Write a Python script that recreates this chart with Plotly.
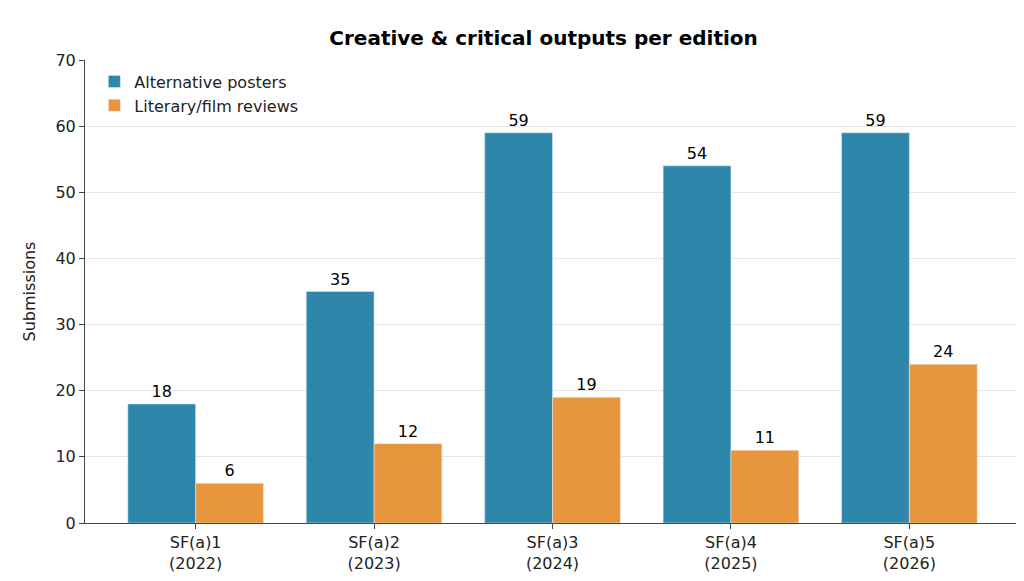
import plotly.graph_objects as go

editions = ["SF(a)1<br>(2022)", "SF(a)2<br>(2023)", "SF(a)3<br>(2024)", "SF(a)4<br>(2025)", "SF(a)5<br>(2026)"]
posters = [18, 35, 59, 54, 59]
reviews = [6, 12, 19, 11, 24]

font = "DejaVu Sans"
fig = go.Figure()
fig.add_trace(go.Bar(x=editions, y=posters, name="Alternative posters",
                     marker=dict(color="#2E86AB"), text=posters, textposition="outside",
                     textfont=dict(family=font, size=16, color="black"), cliponaxis=False))
fig.add_trace(go.Bar(x=editions, y=reviews, name="Literary/film reviews",
                     marker=dict(color="#E8963E"), text=reviews, textposition="outside",
                     textfont=dict(family=font, size=16, color="black"), cliponaxis=False))

fig.update_layout(
    width=1024, height=581,
    barmode="group", bargap=0.24, bargroupgap=0,
    title=dict(text="<b>Creative & critical outputs per edition</b>", x=0.523, y=0.96,
               xanchor="center", font=dict(family=font, size=20, color="black")),
    font=dict(family=font, size=16, color="#222"),
    plot_bgcolor="white", paper_bgcolor="white",
    margin=dict(l=77, r=12, t=52, b=66),
    legend=dict(x=0.01, y=0.99, xanchor="left", yanchor="top", bgcolor="rgba(255,255,255,0)",
                font=dict(family=font, size=16, color="#222")),
    xaxis=dict(range=[-0.62, 4.62], showline=True, linecolor="#444", ticks="outside",
               tickcolor="#444", tickfont=dict(size=16)),
    yaxis=dict(range=[0, 70], dtick=10, title=dict(text="Submissions", font=dict(size=16)),
               showline=True, linecolor="#444", ticks="outside", tickcolor="#444",
               gridcolor="#e6e6e6", tickfont=dict(size=16), zeroline=False),
)
fig.write_html("out.html")
